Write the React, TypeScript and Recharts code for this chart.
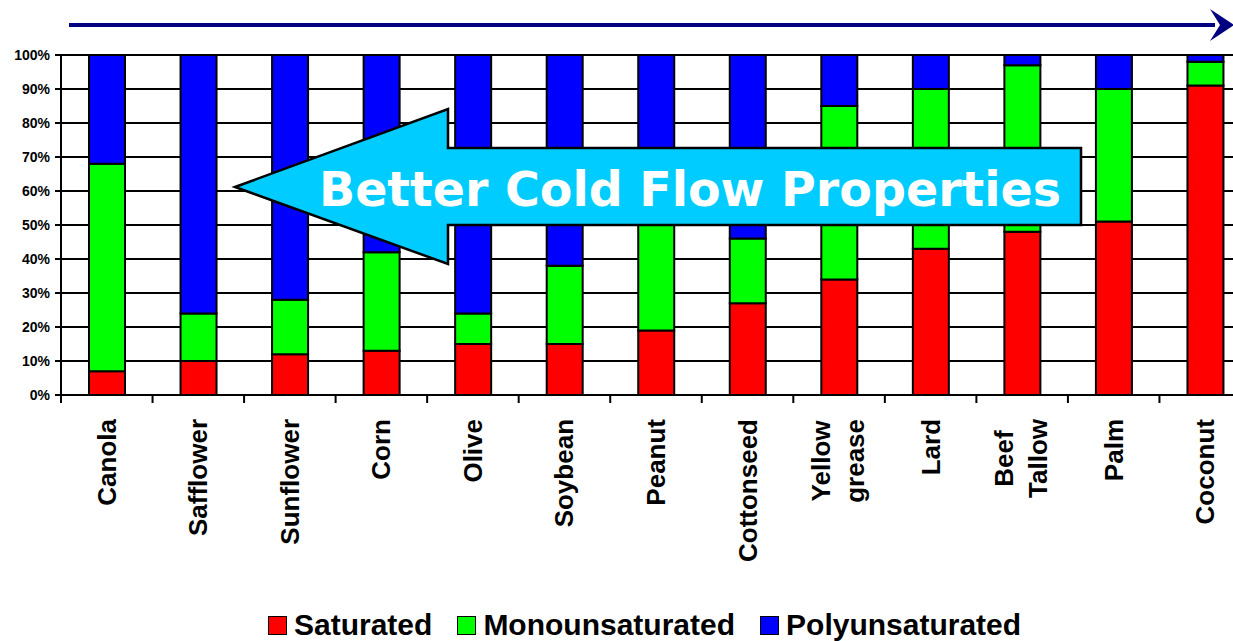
import React from "react";
import { Bar, BarChart, CartesianGrid, XAxis, YAxis } from "recharts";

// Fatty acid composition per feedstock, percent of total.
const categories = [
  "Canola",
  "Safflower",
  "Sunflower",
  "Corn",
  "Olive",
  "Soybean",
  "Peanut",
  "Cottonseed",
  "Yellow\ngrease",
  "Lard",
  "Beef\nTallow",
  "Palm",
  "Coconut",
];
const saturated = [7, 10, 12, 13, 15, 15, 19, 27, 34, 43, 48, 51, 91];
const monounsaturated = [61, 14, 16, 29, 9, 23, 48, 19, 51, 47, 49, 39, 7];
const polyunsaturated = [32, 76, 72, 58, 76, 62, 33, 54, 15, 10, 3, 10, 2];
const yTicks = [0, 10, 20, 30, 40, 50, 60, 70, 80, 90, 100];

const series = [
  { key: "Saturated", color: "#ff0000" },
  { key: "Monounsaturated", color: "#00ff00" },
  { key: "Polyunsaturated", color: "#0000ff" },
];

const rows = categories.map((name, i) => ({
  name,
  Saturated: saturated[i],
  Monounsaturated: monounsaturated[i],
  Polyunsaturated: polyunsaturated[i],
}));

const CHART_W = 1251;
const Y_AXIS_W = 61;
const FONT = "'Liberation Sans', Arial, sans-serif";
const LABEL_FONT = `bold 26px ${FONT}`;

let ctx: CanvasRenderingContext2D | null = null;
function measure(text: string) {
  if (!ctx) ctx = document.createElement("canvas").getContext("2d");
  if (!ctx) return text.length * 15;
  ctx.font = LABEL_FONT;
  return ctx.measureText(text).width;
}

// Rotated category label; wrapped lines are centred in their block and the
// block hangs just below the axis. Tick marks sit on the category boundaries
// (Excel style) rather than at the centres.
function CategoryTick(props: any) {
  const { x, y, payload, index } = props;
  const step = (CHART_W - Y_AXIS_W) / categories.length;
  const lines = String(payload.value).split("\n");
  const blockW = Math.max(...lines.map(measure));
  const top = y + 24;
  const shift = lines.length === 1 ? 9 : 8;
  const last = index === categories.length - 1;
  return (
    <g>
      <line x1={x - step / 2} x2={x - step / 2} y1={y} y2={y + 8} stroke="#000" strokeWidth={2} />
      {last && (
        <line x1={x + step / 2} x2={x + step / 2} y1={y} y2={y + 8} stroke="#000" strokeWidth={2} />
      )}
      <g transform={`translate(${x},${top}) rotate(-90)`}>
        {lines.map((l, i) => (
          <text
            key={l}
            x={-blockW / 2}
            y={shift + (i - (lines.length - 1) / 2) * 34}
            textAnchor="middle"
            fill="#000"
            style={{ font: LABEL_FONT }}
          >
            {l}
          </text>
        ))}
      </g>
    </g>
  );
}

function Legend() {
  return (
    <div
      style={{
        position: "absolute",
        left: 268,
        top: 608,
        display: "flex",
        alignItems: "center",
        fontFamily: FONT,
        fontWeight: "bold",
        fontSize: 30,
        color: "#000",
        whiteSpace: "nowrap",
      }}
    >
      {series.map((s) => (
        <div key={s.key} style={{ display: "flex", alignItems: "center", marginRight: 25 }}>
          <span
            style={{
              display: "inline-block",
              width: 17,
              height: 17,
              background: s.color,
              border: "1.5px solid #000",
              marginRight: 7,
            }}
          />
          <span>{s.key}</span>
        </div>
      ))}
    </div>
  );
}

function Overlay() {
  return (
    <svg
      width={1233}
      height={641}
      style={{ position: "absolute", left: 0, top: 0, pointerEvents: "none" }}
    >
      <line x1={69} y1={25} x2={1215} y2={25} stroke="#000080" strokeWidth={4} />
      <polygon points="1234,25 1210,9 1220,25 1210,41" fill="#000080" />
      <polygon
        points="235,187 448,109 448,148 1081,148 1081,225 448,225 448,264"
        fill="#00ccff"
        stroke="#000"
        strokeWidth={2.5}
        strokeLinejoin="miter"
      />
      <text
        x={690}
        y={206}
        textAnchor="middle"
        fill="#fff"
        style={{ font: "bold 47.5px 'DejaVu Sans', Verdana, sans-serif" }}
      >
        Better Cold Flow Properties
      </text>
    </svg>
  );
}

export default function App() {
  return (
    <div
      style={{
        position: "absolute",
        left: 0,
        top: 0,
        width: 1233,
        height: 641,
        overflow: "hidden",
        background: "#fff",
      }}
    >
      <BarChart
        width={CHART_W}
        height={641}
        data={rows}
        barSize={36}
        margin={{ top: 55, right: 0, bottom: 46, left: 0 }}
      >
        <CartesianGrid vertical={false} stroke="#000" strokeWidth={2} strokeOpacity={1} />
        <XAxis
          dataKey="name"
          height={200}
          interval={0}
          tickLine={false}
          tickSize={0}
          tickMargin={0}
          axisLine={{ stroke: "#000", strokeWidth: 2 }}
          tick={<CategoryTick />}
        />
        <YAxis
          width={Y_AXIS_W}
          domain={[0, 100]}
          ticks={yTicks}
          interval={0}
          tickFormatter={(v) => `${v}%`}
          tickSize={6}
          tickMargin={5}
          tickLine={{ stroke: "#000", strokeWidth: 2 }}
          axisLine={{ stroke: "#000", strokeWidth: 2 }}
          tick={{ fill: "#000", fontSize: 14, fontWeight: "bold", fontFamily: FONT }}
        />
        {series.map((s) => (
          <Bar
            key={s.key}
            dataKey={s.key}
            stackId="fat"
            fill={s.color}
            stroke="#000"
            strokeWidth={2}
            isAnimationActive={false}
          />
        ))}
      </BarChart>
      <Overlay />
      <Legend />
    </div>
  );
}
